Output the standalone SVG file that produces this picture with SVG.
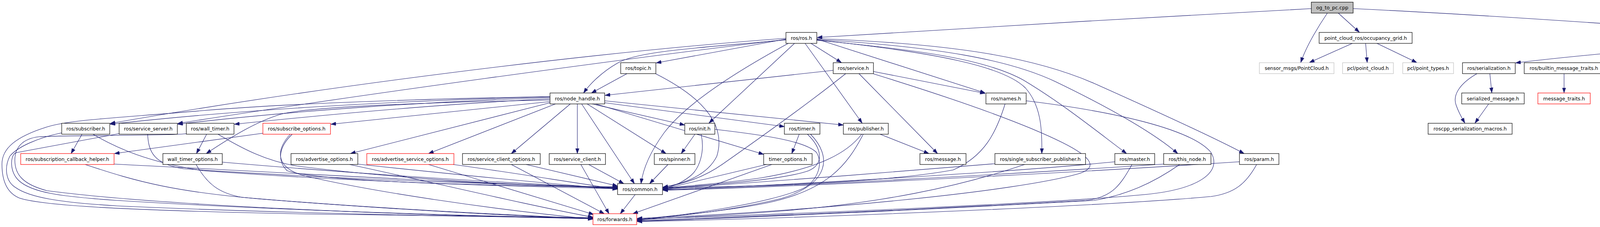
<svg xmlns="http://www.w3.org/2000/svg" width="5414" height="581" viewBox="0 0 5414 581">
<style>
.node rect{fill:#fff;stroke:#000;stroke-width:1.2}
.red rect{stroke:#ff0000}
.gray rect{stroke:#bfbfbf}
.root rect{fill:#bfbfbf}
.node text{font-family:"DejaVu Sans","Liberation Sans",sans-serif;font-size:12.5px;text-anchor:middle;fill:#000}
#edges path{fill:none;stroke:#191970;stroke-width:1.1;marker-end:url(#arr)}
</style>
<defs>
<marker id="arr" markerUnits="userSpaceOnUse" markerWidth="14" markerHeight="10" refX="13" refY="5" orient="auto"><path d="M0,0.5 L13,5 L0,9.5 z" fill="#191970" stroke="#191970" stroke-width="0.8"/></marker>
</defs>
<rect width="5414" height="581" fill="#fff"/>
<g id="edges">
<path d="M3357,22 C3000,40 2400,77 2092,96"/>
<path d="M3398,33.5 C3380,60 3345,115 3330,160"/>
<path d="M3426,33.5 L3480,82.5"/>
<path d="M3464,22 C3800,38 4200,66 4516,90"/>
<path d="M3462,111 L3352,160"/>
<path d="M3496,111 L3500,160"/>
<path d="M3525,111 L3627,160"/>
<path d="M4517,104 C4350,115 4050,140 3880,161"/>
<path d="M4517,110 C4380,125 4200,148 4106,161"/>
<path d="M4557,111 L4300,161"/>
<path d="M4588,111 L4432,161"/>
<path d="M4610,111 L4540,161"/>
<path d="M4634,111 L4634,160"/>
<path d="M4662,111 L4755,160"/>
<path d="M4697,111 L4912,160"/>
<path d="M4752,106 C4880,118 5000,140 5093,160"/>
<path d="M4752,104 C4950,116 5100,145 5174,160"/>
<path d="M4752,102 C5000,113 5180,145 5260,160"/>
<path d="M4752,100 C5050,110 5250,145 5334,160"/>
<path d="M3814,188.5 L3819,237.5"/>
<path d="M3781,188.5 C3735,215 3718,245 3728,270 C3735,290 3743,303 3750,315"/>
<path d="M3811,266 L3776,315"/>
<path d="M4004,188.5 L4004,237.5"/>
<path d="M4395,188.5 L4419,237.5"/>
<path d="M4383,188.5 C4372,220 4369,270 4381,315"/>
<path d="M4420,266 L4397,315"/>
<path d="M2012,100 L1680,161"/>
<path d="M2012,102 C1800,122 1630,130 1580,162 C1540,185 1510,215 1494,238"/>
<path d="M2018,111 C1900,175 1760,260 1700,340 C1660,395 1645,440 1641,470"/>
<path d="M2034,111 L1815,315"/>
<path d="M2061,111 L2207,315"/>
<path d="M2076,111 L2154,160"/>
<path d="M2091,100 L2522,238"/>
<path d="M2091,102 C2400,135 2570,170 2625,225 C2665,270 2668,330 2667,393"/>
<path d="M2091,103 C2350,128 2520,150 2620,205 C2720,265 2800,330 2884,393"/>
<path d="M2091,101 C2400,120 2580,152 2700,208 C2850,280 2960,345 3015,393"/>
<path d="M2091,99 C2450,112 2650,148 2800,213 C2950,280 3100,348 3185,393"/>
<path d="M2012,98 C1500,135 800,225 282,316"/>
<path d="M2012,101 C1600,150 900,245 455,316"/>
<path d="M1605,188.5 L1514,238"/>
<path d="M1679,189 C1800,250 1860,320 1835,400 C1810,450 1750,470 1697,479"/>
<path d="M2133,180 L1549,244"/>
<path d="M2236,183 L2522,239"/>
<path d="M2199,188.5 L2400,393"/>
<path d="M2165,188.5 C2050,280 1900,385 1850,420 C1800,455 1750,470 1697,480"/>
<path d="M2236,189 C2450,255 2620,315 2720,365 C2800,405 2810,430 2760,445 C2600,490 2100,540 1631,559"/>
<path d="M2573,266 C2550,340 2520,400 2440,435 C2250,470 1900,478 1697,481"/>
<path d="M2627,258 C2850,285 3050,330 3100,390 C3130,440 3070,485 2930,498 C2700,520 2100,545 1631,561"/>
<path d="M2253,343.5 L2378,393"/>
<path d="M2206,343.5 C2170,390 2100,430 1950,455 C1850,470 1750,476 1697,482"/>
<path d="M2210,343.5 C2170,420 2120,490 1950,522 C1830,545 1700,553 1631,562"/>
<path d="M2046,343.5 L2027,393"/>
<path d="M2067,343.5 C2105,380 2110,420 2070,437 C2000,462 1800,474 1697,483"/>
<path d="M2075,343.5 C2130,400 2125,470 2000,508 C1850,545 1700,555 1631,563"/>
<path d="M1962,421 L1697,484"/>
<path d="M1976,421 L1620,547"/>
<path d="M1779,343.5 L1744,393"/>
<path d="M1795,343.5 C1805,390 1790,430 1770,448 C1745,470 1720,476 1697,485"/>
<path d="M1830,331 C1950,345 2060,360 2090,390 C2110,420 2090,470 2050,485 C1950,525 1750,550 1631,564"/>
<path d="M1710,421 L1663,470"/>
<path d="M1507,421 L1597,470"/>
<path d="M1487,421 L1559,547"/>
<path d="M1626,498 L1588,547"/>
<path d="M1478,266 L1478,393"/>
<path d="M1489,266 L1624,470"/>
<path d="M1503,266 L1705,393"/>
<path d="M1516,266 L1753,320"/>
<path d="M1525,266 L1955,395"/>
<path d="M1548,263 L2008,324"/>
<path d="M1548,258 L2159,320"/>
<path d="M1408,260 L847,318"/>
<path d="M1408,263 L897,393"/>
<path d="M1422,266 L1097,393"/>
<path d="M1460,266 L1309,393"/>
<path d="M1408,248 C1000,258 600,282 282,318"/>
<path d="M1408,250 C1100,260 750,283 455,318"/>
<path d="M1408,253 C1150,265 850,292 600,318"/>
<path d="M1408,256 C1100,262 800,272 720,292 C660,310 600,345 528,393"/>
<path d="M1408,247 C1000,255 700,268 520,283 C300,302 180,306 120,325 C40,350 5,380 5,420 C5,465 20,495 50,507 C120,530 400,540 800,548 C1100,554 1350,556 1518,557"/>
<path d="M210,343.5 L182,393"/>
<path d="M238,343.5 C300,380 380,415 520,437 C900,465 1300,478 1581,478"/>
<path d="M158,340 C100,352 45,375 25,400 C10,430 15,465 40,480 C75,505 150,518 300,527 C700,545 1200,555 1518,558"/>
<path d="M378,343.5 C380,390 395,420 470,432 C800,455 1250,472 1581,479"/>
<path d="M305,342 L40,391 C25,400 25,440 48,462 C80,492 150,503 300,513 C700,538 1200,552 1518,559"/>
<path d="M558,343.5 C620,380 680,412 760,425 C1000,455 1300,475 1581,480"/>
<path d="M478,342 C440,348 200,345 100,350 C55,355 38,380 38,410 C38,448 60,472 120,488 C400,525 1000,550 1518,560"/>
<path d="M529,343.5 L503,393"/>
<path d="M569,415 C800,435 1200,465 1581,481"/>
<path d="M502,421 C530,470 560,495 620,505 C900,530 1300,550 1518,560"/>
<path d="M292,420 C700,440 1200,470 1581,482"/>
<path d="M218,421 C350,465 450,493 700,512 C1000,535 1300,552 1518,560"/>
<path d="M673,341 L293,393"/>
<path d="M748,343.5 C715,375 708,410 735,437 C800,460 1100,472 1581,483"/>
<path d="M743,343.5 C705,385 705,430 780,450 C950,490 1250,535 1518,561"/>
<path d="M915,420 C1150,445 1400,470 1581,484"/>
<path d="M895,421 C1100,465 1350,525 1518,556"/>
<path d="M1160,421 C1300,440 1450,465 1581,484"/>
<path d="M1097,421 L1520,549"/>
<path d="M1347,421 L1581,476"/>
<path d="M1309,421 L1547,547"/>
<path d="M2547,419 C2300,440 1900,470 1697,484"/>
<path d="M2623,421 C2450,480 2250,520 2000,540 C1850,552 1700,558 1631,563"/>
<path d="M2854,414 C2600,440 2000,475 1697,485"/>
<path d="M2898,421 C2870,470 2850,505 2780,513 C2400,535 1900,555 1631,565"/>
<path d="M2979,420 C2600,445 2000,478 1697,486"/>
<path d="M3020,421 C2950,470 2880,500 2800,513 C2400,535 1900,558 1631,566"/>
<path d="M3173,414 C2700,445 2000,480 1697,487"/>
<path d="M3217,421 C3190,470 3160,495 3100,503 C2800,530 2000,560 1631,567"/>
</g>
<g id="n_og_to_pc" class="node root"><rect x="3357" y="5.5" width="107" height="28"/><text x="3410.5" y="24">og_to_pc.cpp</text></g>
<g id="n_ros_h" class="node"><rect x="2012" y="83" width="79" height="28"/><text x="2051.5" y="101.5">ros/ros.h</text></g>
<g id="n_occ_grid" class="node"><rect x="3377" y="83" width="238" height="28"/><text x="3496" y="101.5">point_cloud_ros/occupancy_grid.h</text></g>
<g id="n_OccGrid" class="node"><rect x="4517" y="83" width="235" height="28"/><text x="4634.5" y="101.5">point_cloud_ros/OccupancyGrid.h</text></g>
<g id="n_topic" class="node"><rect x="1589" y="160.5" width="90" height="28"/><text x="1634" y="179">ros/topic.h</text></g>
<g id="n_service" class="node"><rect x="2133" y="160.5" width="103" height="28"/><text x="2184.5" y="179">ros/service.h</text></g>
<g id="n_sensor" class="node gray"><rect x="3224" y="160.5" width="191" height="28"/><text x="3319.5" y="179">sensor_msgs/PointCloud.h</text></g>
<g id="n_pcl_cloud" class="node gray"><rect x="3437" y="160.5" width="130" height="28"/><text x="3502" y="179">pcl/point_cloud.h</text></g>
<g id="n_pcl_types" class="node gray"><rect x="3591" y="160.5" width="130" height="28"/><text x="3656" y="179">pcl/point_types.h</text></g>
<g id="n_serialization" class="node"><rect x="3744" y="160.5" width="135" height="28"/><text x="3811.5" y="179">ros/serialization.h</text></g>
<g id="n_builtin" class="node"><rect x="3902" y="160.5" width="203" height="28"/><text x="4003.5" y="179">ros/builtin_message_traits.h</text></g>
<g id="n_msg_ops" class="node"><rect x="4129" y="160.5" width="192" height="28"/><text x="4225" y="179">ros/message_operations.h</text></g>
<g id="n_time" class="node"><rect x="4344" y="160.5" width="87" height="28"/><text x="4387.5" y="179">ros/time.h</text></g>
<g id="n_macros" class="node"><rect x="4454" y="160.5" width="107" height="28"/><text x="4507.5" y="179">ros/macros.h</text></g>
<g id="n_assert" class="node red"><rect x="4585" y="160.5" width="98" height="28"/><text x="4634" y="179">ros/assert.h</text></g>
<g id="n_header" class="node gray"><rect x="4708" y="160.5" width="146" height="28"/><text x="4781" y="179">std_msgs/Header.h</text></g>
<g id="n_point32" class="node gray"><rect x="4878" y="160.5" width="190" height="28"/><text x="4973" y="179">geometry_msgs/Point32.h</text></g>
<g id="n_string" class="node gray"><rect x="5092" y="160.5" width="58" height="28"/><text x="5121" y="179">string</text></g>
<g id="n_vector" class="node gray"><rect x="5173" y="160.5" width="63" height="28"/><text x="5204.5" y="179">vector</text></g>
<g id="n_map" class="node gray"><rect x="5259" y="160.5" width="51" height="28"/><text x="5284.5" y="179">map</text></g>
<g id="n_ostream" class="node gray"><rect x="5333" y="160.5" width="77" height="28"/><text x="5371.5" y="179">ostream</text></g>
<g id="n_node_handle" class="node"><rect x="1408" y="238" width="140" height="28"/><text x="1478" y="256.5">ros/node_handle.h</text></g>
<g id="n_names" class="node"><rect x="2524" y="238" width="103" height="28"/><text x="2575.5" y="256.5">ros/names.h</text></g>
<g id="n_serialized" class="node"><rect x="3742" y="238" width="160" height="28"/><text x="3822" y="256.5">serialized_message.h</text></g>
<g id="n_msg_traits" class="node red"><rect x="3937" y="238" width="134" height="28"/><text x="4004" y="256.5">message_traits.h</text></g>
<g id="n_duration" class="node"><rect x="4384" y="238" width="87" height="28"/><text x="4427.5" y="256.5">duration.h</text></g>
<g id="n_subscriber" class="node"><rect x="158" y="315.5" width="123" height="28"/><text x="219.5" y="334">ros/subscriber.h</text></g>
<g id="n_service_server" class="node"><rect x="305" y="315.5" width="149" height="28"/><text x="379.5" y="334">ros/service_server.h</text></g>
<g id="n_wall_timer" class="node"><rect x="477" y="315.5" width="122" height="28"/><text x="538" y="334">ros/wall_timer.h</text></g>
<g id="n_subscribe_options" class="node red"><rect x="673" y="315.5" width="173" height="28"/><text x="759.5" y="334">ros/subscribe_options.h</text></g>
<g id="n_init" class="node"><rect x="1753" y="315.5" width="77" height="28"/><text x="1791.5" y="334">ros/init.h</text></g>
<g id="n_timer" class="node"><rect x="2008" y="315.5" width="91" height="28"/><text x="2053.5" y="334">ros/timer.h</text></g>
<g id="n_publisher" class="node"><rect x="2159" y="315.5" width="115" height="28"/><text x="2216.5" y="334">ros/publisher.h</text></g>
<g id="n_rsm" class="node"><rect x="3656" y="315.5" width="215" height="28"/><text x="3763.5" y="334">roscpp_serialization_macros.h</text></g>
<g id="n_rostime_decl" class="node"><rect x="4329" y="315.5" width="117" height="28"/><text x="4387.5" y="334">rostime_decl.h</text></g>
<g id="n_sub_cb" class="node red"><rect x="53" y="393" width="239" height="28"/><text x="172.5" y="411.5">ros/subscription_callback_helper.h</text></g>
<g id="n_wto" class="node"><rect x="417" y="393" width="152" height="28"/><text x="493" y="411.5">wall_timer_options.h</text></g>
<g id="n_adv_opt" class="node"><rect x="745" y="393" width="171" height="28"/><text x="830.5" y="411.5">ros/advertise_options.h</text></g>
<g id="n_adv_svc" class="node red"><rect x="939" y="393" width="223" height="28"/><text x="1050.5" y="411.5">ros/advertise_service_options.h</text></g>
<g id="n_sco" class="node"><rect x="1184" y="393" width="199" height="28"/><text x="1283.5" y="411.5">ros/service_client_options.h</text></g>
<g id="n_service_client" class="node"><rect x="1406" y="393" width="144" height="28"/><text x="1478" y="411.5">ros/service_client.h</text></g>
<g id="n_spinner" class="node"><rect x="1675" y="393" width="104" height="28"/><text x="1727" y="411.5">ros/spinner.h</text></g>
<g id="n_timer_options" class="node"><rect x="1955" y="393" width="124" height="28"/><text x="2017" y="411.5">timer_options.h</text></g>
<g id="n_message" class="node"><rect x="2355" y="393" width="118" height="28"/><text x="2414" y="411.5">ros/message.h</text></g>
<g id="n_ssp" class="node"><rect x="2547" y="393" width="232" height="28"/><text x="2663" y="411.5">ros/single_subscriber_publisher.h</text></g>
<g id="n_master" class="node"><rect x="2854" y="393" width="102" height="28"/><text x="2905" y="411.5">ros/master.h</text></g>
<g id="n_this_node" class="node"><rect x="2979" y="393" width="121" height="28"/><text x="3039.5" y="411.5">ros/this_node.h</text></g>
<g id="n_param" class="node"><rect x="3173" y="393" width="101" height="28"/><text x="3223.5" y="411.5">ros/param.h</text></g>
<g id="n_common" class="node"><rect x="1581" y="470" width="115" height="28"/><text x="1638.5" y="488.5">ros/common.h</text></g>
<g id="n_forwards" class="node red"><rect x="1518" y="547" width="112" height="28"/><text x="1574" y="565.5">ros/forwards.h</text></g>
</svg>
